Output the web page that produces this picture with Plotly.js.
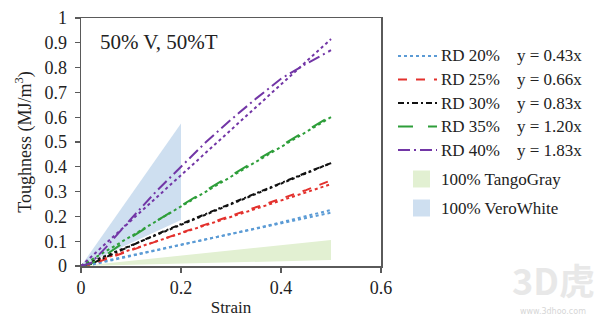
<!DOCTYPE html>
<html>
<head>
<meta charset="utf-8">
<script src="https://cdn.plot.ly/plotly-3.0.1.min.js"></script>
<style>html,body{margin:0;padding:0;background:#fff;}#chart{width:600px;height:326px;}</style>
</head>
<body>
<div id="chart"></div>
<script>
// ---- data ----
var strain = [0, 0.02, 0.05, 0.1, 0.15, 0.2, 0.25, 0.3, 0.35, 0.4, 0.45, 0.5];
var rd20 = [0, 0.004, 0.018, 0.040, 0.062, 0.085, 0.108, 0.130, 0.152, 0.176, 0.200, 0.226];
var rd25 = [0, 0.006, 0.028, 0.064, 0.099, 0.134, 0.168, 0.202, 0.237, 0.271, 0.306, 0.345];
var rd30 = [0, 0.008, 0.036, 0.083, 0.127, 0.169, 0.211, 0.253, 0.295, 0.336, 0.376, 0.415];
var rd35 = [0, 0.010, 0.045, 0.115, 0.180, 0.243, 0.305, 0.365, 0.425, 0.485, 0.545, 0.605];
var rd40 = [0, 0.012, 0.075, 0.190, 0.300, 0.400, 0.500, 0.590, 0.675, 0.755, 0.815, 0.870];
var seriesNames = ["RD 20%", "RD 25%", "RD 30%", "RD 35%", "RD 40%"];
var fitSlopes = [0.43, 0.66, 0.83, 1.20, 1.83];
var fitLabels = ["y = 0.43x", "y = 0.66x", "y = 0.83x", "y = 1.20x", "y = 1.83x"];
var fitStrain = [0, 0.5];
// material bands (polygon outlines)
var tangoX = [0, 0.5, 0.5, 0];
var tangoY = [0, 0.105, 0.024, 0];
var veroX = [0, 0.2, 0.2, 0];
var veroY = [0, 0.575, 0.185, 0];
var bandNames = ["100% TangoGray", "100% VeroWhite"];
var xTicks = [0, 0.2, 0.4, 0.6];
var xTickText = ["0", "0.2", "0.4", "0.6"];
var yTicks = [0, 0.1, 0.2, 0.3, 0.4, 0.5, 0.6, 0.7, 0.8, 0.9, 1];
var yTickText = ["0", "0.1", "0.2", "0.3", "0.4", "0.5", "0.6", "0.7", "0.8", "0.9", "1"];

// ---- styles ----
var dataSets = [rd20, rd25, rd30, rd35, rd40];
var colors = ["#5b9bd5", "#e3312d", "#111111", "#2e9e3a", "#7236a6"];
var dashes = ["dot", "dash", "6px,3px,2px,3px", "longdash", "12px,4px,2px,4px"];
var bandColors = ["rgb(226,240,210)", "rgb(206,223,240)"];
var serif = "Liberation Serif, Times New Roman, serif";
var txt = "#222";

var traces = [];
traces.push({x: tangoX, y: tangoY, type: "scatter", mode: "lines", fill: "toself",
  fillcolor: bandColors[0], line: {width: 0}, showlegend: false, hoverinfo: "skip"});
traces.push({x: veroX, y: veroY, type: "scatter", mode: "lines", fill: "toself",
  fillcolor: bandColors[1], line: {width: 0}, showlegend: false, hoverinfo: "skip"});
for (var i = 0; i < dataSets.length; i++) {
  traces.push({x: fitStrain, y: fitStrain.map(function (s) { return s * fitSlopes[i]; }),
    type: "scatter", mode: "lines", line: {color: colors[i], width: 2, dash: "dot"},
    showlegend: false});
  traces.push({x: strain, y: dataSets[i], type: "scatter", mode: "lines", name: seriesNames[i],
    line: {color: colors[i], width: 2, dash: dashes[i]}, showlegend: false});
}

// ---- manual legend (layout only) ----
var L = 81, T = 18, W = 300, H = 248;
function px2x(p) { return (p - L) / W; }
function py2y(p) { return (T + H - p) / H; }
var shapes = [];
var annotations = [];
var rowY = [56, 79.5, 103, 126.5, 150];
for (var j = 0; j < seriesNames.length; j++) {
  shapes.push({type: "line", xref: "paper", yref: "paper", x0: px2x(398), x1: px2x(437),
    y0: py2y(rowY[j]), y1: py2y(rowY[j]), line: {color: colors[j], width: 2, dash: dashes[j]}});
  annotations.push({xref: "paper", yref: "paper", x: px2x(439), y: py2y(rowY[j]), xanchor: "left",
    yanchor: "middle", text: seriesNames[j], showarrow: false, font: {family: serif, size: 17, color: txt}});
  annotations.push({xref: "paper", yref: "paper", x: px2x(515), y: py2y(rowY[j]), xanchor: "left",
    yanchor: "middle", text: fitLabels[j], showarrow: false, font: {family: serif, size: 17, color: txt}});
}
var bandRowY = [179, 208];
for (var k = 0; k < 2; k++) {
  shapes.push({type: "rect", xref: "paper", yref: "paper", x0: px2x(413), x1: px2x(430),
    y0: py2y(bandRowY[k] + 8.5), y1: py2y(bandRowY[k] - 8.5), fillcolor: bandColors[k], line: {width: 0}});
  annotations.push({xref: "paper", yref: "paper", x: px2x(439), y: py2y(bandRowY[k]), xanchor: "left",
    yanchor: "middle", text: bandNames[k], showarrow: false, font: {family: serif, size: 17, color: txt}});
}
// panel title
annotations.push({xref: "paper", yref: "paper", x: px2x(98), y: py2y(42), xanchor: "left", yanchor: "middle",
  text: "50% V, 50%T", showarrow: false, font: {family: serif, size: 21, color: txt}});
// watermark
annotations.push({xref: "paper", yref: "paper", x: px2x(553), y: py2y(279), xanchor: "center", yanchor: "middle",
  text: "<b>3D虎</b>", showarrow: false, font: {family: "Noto Sans CJK SC, sans-serif", size: 36, color: "#e8e8e8"}});
annotations.push({xref: "paper", yref: "paper", x: px2x(553), y: py2y(311), xanchor: "center", yanchor: "middle",
  text: "www.3dhoo.com", showarrow: false, font: {family: "DejaVu Sans, sans-serif", size: 8, color: "#d6d6d6"}});

var axisCommon = {showline: true, linecolor: "#5a5a5a", linewidth: 1.5, mirror: true,
  ticks: "outside", ticklen: 5, tickcolor: "#5a5a5a", tickwidth: 1.2, showgrid: false, zeroline: false,
  tickfont: {family: serif, size: 18, color: txt}, fixedrange: true};

var layout = {
  width: 600, height: 326,
  margin: {l: L, r: 600 - L - W, t: T, b: 326 - T - H, pad: 0},
  paper_bgcolor: "#fff", plot_bgcolor: "#fff",
  showlegend: false,
  xaxis: Object.assign({}, axisCommon, {range: [0, 0.6], tickvals: xTicks, ticktext: xTickText,
    title: {text: "Strain", font: {family: serif, size: 17, color: txt}, standoff: 4}}),
  yaxis: Object.assign({}, axisCommon, {range: [0, 1], tickvals: yTicks, ticktext: yTickText,
    ticklabelstandoff: 4,
    title: {text: "Toughness (MJ/m<sup>3</sup>)", font: {family: serif, size: 18, color: txt}, standoff: 8}}),
  shapes: shapes,
  annotations: annotations
};

Plotly.newPlot("chart", traces, layout, {displayModeBar: false, staticPlot: true});
</script>
</body>
</html>
